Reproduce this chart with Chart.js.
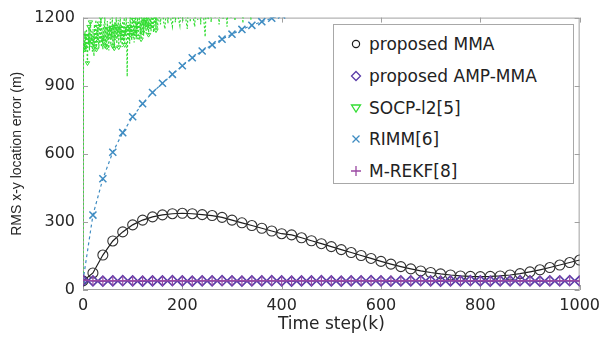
<!DOCTYPE html>
<html>
<head>
<meta charset="utf-8">
<script src="https://cdn.jsdelivr.net/npm/chart.js@4.4.0/dist/chart.umd.min.js"></script>
<style>
  html, body { margin: 0; padding: 0; background: #fff; }
  #wrap { position: relative; width: 606px; height: 338px; }
  #legend {
    position: absolute; left: 333px; top: 24px; width: 241px; height: 160px;
    box-sizing: border-box; border: 1px solid #a8a8a8; background: #fff;
    font-family: "DejaVu Sans"; font-size: 17px; color: #222;
  }
  .row { position: absolute; left: 0; height: 20px; line-height: 20px; white-space: nowrap; }
  .row svg { position: absolute; left: 16px; top: 4px; }
  .row span { position: absolute; left: 35px; top: 0; }
</style>
</head>
<body>
<div id="wrap">
  <canvas id="c" width="606" height="338"></canvas>
  <div id="legend"></div>
</div>
<script>
// data
const steps = [0, 20, 40, 60, 80, 100, 120, 140, 160, 180, 200, 220, 240, 260, 280, 300, 320, 340, 360, 380,
  400, 420, 440, 460, 480, 500, 520, 540, 560, 580, 600, 620, 640, 660, 680, 700, 720, 740, 760, 780,
  800, 820, 840, 860, 880, 900, 920, 940, 960, 980, 1000];

const mma = [40, 75, 154, 216, 256, 287, 308, 322, 331, 336, 338, 336, 332, 328, 320, 308, 296, 284, 272, 260,
  248, 243, 230, 217, 204, 191, 178, 165, 152, 139, 126, 114, 103, 93, 84, 77, 71, 66, 62, 60,
  59, 60, 62, 66, 72, 80, 89, 99, 110, 121, 132];

const ampMma = [42, 40, 39, 40, 41, 40, 39, 40, 40, 41, 40, 39, 40, 40, 41, 40, 39, 40, 40, 41,
  40, 39, 40, 40, 41, 40, 39, 40, 40, 41, 40, 39, 40, 40, 41, 40, 39, 40, 40, 41,
  40, 39, 40, 40, 41, 40, 39, 40, 40, 41, 40];

const mRekf = [44, 41, 40, 41, 41, 40, 41, 41, 40, 41, 41, 40, 41, 41, 40, 41, 41, 40, 41, 41,
  40, 41, 41, 40, 41, 41, 40, 41, 41, 40, 41, 41, 40, 41, 41, 40, 41, 41, 40, 41,
  41, 40, 41, 41, 40, 41, 41, 40, 41, 41, 40];

const rimm = [40, 330, 490, 607, 693, 763, 821, 870, 911, 950, 988, 1023, 1053, 1080, 1105, 1127, 1148, 1166, 1182, 1197, 1212];

const socpK = [0, 1, 2, 3, 4, 5, 6, 7, 8, 9, 10, 11, 12, 13, 14, 15, 16, 17, 18, 19, 20, 21, 22, 23, 24, 25,
  26, 27, 28, 29, 30, 31, 32, 33, 34, 35, 36, 37, 38, 39, 40, 41, 42, 43, 44, 45, 46, 47, 48, 49, 50,
  51, 52, 53, 54, 55, 56, 57, 58, 59, 60, 61, 62, 63, 64, 65, 66, 67, 68, 69, 70, 71, 72, 73, 74, 75,
  76, 77, 78, 79, 80, 81, 82, 83, 84, 85, 86, 87, 88, 89, 90, 91, 92, 93, 94, 95, 96, 97, 98, 99, 100,
  101, 102, 103, 104, 105, 106, 107, 108, 109, 110, 111, 112, 113, 114, 115, 116, 117, 118, 119, 120,
  121, 122, 123, 124, 125, 126, 127, 128, 129, 130, 131, 132, 133, 134, 135, 136, 137, 138, 139, 140,
  141, 142, 143, 144, 145, 146, 147, 148, 149, 150, 153, 156, 159, 162, 165, 168, 171, 174, 177, 180,
  183, 186, 189, 192, 195, 198, 201, 204, 207, 210, 213, 216, 219, 222, 225, 228, 231, 234, 237, 240,
  243, 246, 249, 252, 255, 258, 262, 266, 270, 274, 278, 282, 286, 290, 294, 298, 302, 306, 310, 314,
  318, 322, 326, 330, 334, 338, 342];
const socpVal = [40, 1070, 1100, 1060, 1140, 1050, 1120, 1150, 1065, 1000, 1130, 1080, 1160, 1055, 1125, 1180,
  1070, 1140, 1095, 1050, 1150, 1110, 1030, 1170, 1075, 1135, 1190, 1060, 1145, 1090, 1160, 1105, 1065,
  1175, 1085, 1140, 1200, 1070, 1155, 1110, 1060, 1170, 1095, 1145, 1210, 1075, 1160, 1115, 1070, 1185,
  1100, 1150, 1055, 1165, 1120, 1195, 1080, 1155, 1105, 1220, 1075, 1170, 1125, 1065, 1180, 1100, 1160,
  1205, 1085, 1150, 1110, 1190, 1070, 1165, 1125, 1215, 1090, 1170, 1115, 1070, 1185, 1130, 1095, 1200,
  1080, 1160, 1120, 1225, 1090, 940, 1150, 1180, 1100, 1160, 1085, 1210, 1125, 1170, 1100, 1230, 1140,
  1110, 1190, 1090, 1165, 1130, 1240, 1105, 1175, 1140, 1210, 1115, 1185, 1150, 1250, 1125, 1180, 1105,
  1220, 1160, 1135, 1200, 1120, 1175, 1260, 1150, 1190, 1130, 1230, 1170, 1145, 1210, 1125, 1185, 1270,
  1160, 1195, 1140, 1240, 1175, 1150, 1220, 1135, 1190, 1280, 1165, 1205, 1145, 1250, 1180, 1155,
  1230, 1170, 1290, 1185, 1150, 1260, 1175, 1300, 1190, 1160, 1270, 1180, 1310, 1200, 1165, 1280, 1185,
  1320, 1195, 1150, 1300, 1180, 1330, 1200, 1160, 1310, 1190, 1340, 1170, 1320, 1200, 1115, 1330, 1190,
  1350, 1180, 1330, 1200, 1360, 1170, 1340, 1195, 1370, 1160, 1350, 1200, 1380, 1185, 1360, 1200, 1390,
  1175, 1380, 1200, 1400, 1190, 1420];

const xTicks = [0, 200, 400, 600, 800, 1000];
const yTicks = [0, 300, 600, 900, 1200];

const labels = ['proposed MMA', 'proposed AMP-MMA', 'SOCP-l2[5]', 'RIMM[6]', 'M-REKF[8]'];

const cBlack = '#1e1e1e', cPurple = '#5a3ca8', cGreen = '#33dd33', cBlue = '#3f8cc2', cMag = '#9a48a2';

const pts = (xs, ys) => ys.map((v, i) => ({ x: xs[i], y: v }));

// frame and inward tick marks, MATLAB style
const boxPlugin = {
  id: 'box',
  beforeDatasetsDraw(chart) {
    const { ctx, chartArea: a, scales: { x, y } } = chart;
    ctx.save();
    ctx.strokeStyle = '#a0a0a0';
    ctx.lineWidth = 1;
    ctx.strokeRect(a.left + 0.5, a.top + 0.5, a.right - a.left - 1, a.bottom - a.top - 1);
    ctx.beginPath();
    xTicks.forEach(v => {
      const p = Math.round(x.getPixelForValue(v)) + 0.5;
      ctx.moveTo(p, a.bottom); ctx.lineTo(p, a.bottom - 5);
      ctx.moveTo(p, a.top); ctx.lineTo(p, a.top + 5);
    });
    yTicks.forEach(v => {
      const p = Math.round(y.getPixelForValue(v)) + 0.5;
      ctx.moveTo(a.left, p); ctx.lineTo(a.left + 5, p);
      ctx.moveTo(a.right, p); ctx.lineTo(a.right - 5, p);
    });
    ctx.stroke();
    ctx.restore();
  }
};

const tickFont = { family: 'DejaVu Sans', size: 16 };

new Chart(document.getElementById('c'), {
  type: 'line',
  data: {
    datasets: [
      {
        label: labels[4], data: pts(steps, mRekf),
        borderColor: cMag, borderWidth: 1, backgroundColor: 'transparent',
        pointStyle: 'cross', pointRadius: 5, pointBorderWidth: 1.2, pointBorderColor: cMag
      },
      {
        label: labels[1], data: pts(steps, ampMma),
        borderColor: cPurple, borderWidth: 1.5, backgroundColor: 'transparent',
        pointStyle: 'rectRot', pointRadius: 5, pointBorderWidth: 1.6, pointBorderColor: cPurple
      },
      {
        label: labels[0], data: pts(steps, mma),
        borderColor: cBlack, borderWidth: 1.2, backgroundColor: 'transparent',
        pointStyle: 'circle', pointRadius: 5, pointBorderWidth: 1.1, pointBorderColor: '#333'
      },
      {
        label: labels[3], data: pts(steps, rimm),
        borderColor: cBlue, borderWidth: 1.2, borderDash: [3, 3], backgroundColor: 'transparent',
        pointStyle: 'crossRot', pointRadius: 5, pointBorderWidth: 1.5, pointBorderColor: cBlue
      },
      {
        label: labels[2], data: pts(socpK, socpVal),
        borderColor: cGreen, borderWidth: 1.2, borderDash: [2, 2], backgroundColor: 'transparent',
        pointStyle: 'triangle', rotation: 180, pointBorderColor: cGreen, pointBorderWidth: 1,
        pointRadius: ctx => (ctx.dataIndex === 1 ? 4 : (ctx.dataIndex < 150 && ctx.dataIndex % 3 === 0 ? 2.5 : 0))
      }
    ]
  },
  options: {
    responsive: false,
    animation: false,
    layout: { padding: { top: 17, right: 23, left: 9, bottom: 0 } },
    plugins: { legend: { display: false }, tooltip: { enabled: false } },
    scales: {
      x: {
        type: 'linear', min: 0, max: 1000,
        afterFit(s) { s.height = 48; },
        border: { display: false },
        grid: { display: false, drawTicks: false },
        ticks: { stepSize: 200, padding: 6, maxRotation: 0, font: tickFont, color: '#262626', callback: v => String(v) },
        title: { display: true, text: 'Time step(k)', font: { family: 'DejaVu Sans', size: 17 }, color: '#262626', padding: { top: 0, bottom: 3 } }
      },
      y: {
        min: 0, max: 1200,
        afterFit(s) { s.width = 74; },
        border: { display: false },
        grid: { display: false, drawTicks: false },
        ticks: { stepSize: 300, padding: 8, font: tickFont, color: '#262626', callback: v => String(v) },
        title: { display: true, text: 'RMS x-y location error (m)', font: { family: 'Liberation Sans', size: 14 }, color: '#262626', padding: 0 }
      }
    }
  },
  plugins: [boxPlugin]
});

// legend box drawn as html text
const markers = [
  '<circle cx="6" cy="6" r="3.6" fill="none" stroke="' + cBlack + '" stroke-width="1.2"/>',
  '<path d="M6 1.5 L10.5 6 L6 10.5 L1.5 6 Z" fill="none" stroke="' + cPurple + '" stroke-width="1.3"/>',
  '<path d="M1.5 3 L10.5 3 L6 10 Z" fill="none" stroke="' + cGreen + '" stroke-width="1.3"/>',
  '<path d="M2.5 2.5 L9.5 9.5 M9.5 2.5 L2.5 9.5" stroke="' + cBlue + '" stroke-width="1.3"/>',
  '<path d="M6 1 L6 11 M1 6 L11 6" stroke="' + cMag + '" stroke-width="1.3"/>'
];
const rowTops = [9, 41, 73, 104, 136];
const legend = document.getElementById('legend');
labels.forEach((t, i) => {
  const row = document.createElement('div');
  row.className = 'row';
  row.style.top = rowTops[i] + 'px';
  row.innerHTML = '<svg width="12" height="12">' + markers[i] + '</svg><span>' + t + '</span>';
  legend.appendChild(row);
});
</script>
</body>
</html>
